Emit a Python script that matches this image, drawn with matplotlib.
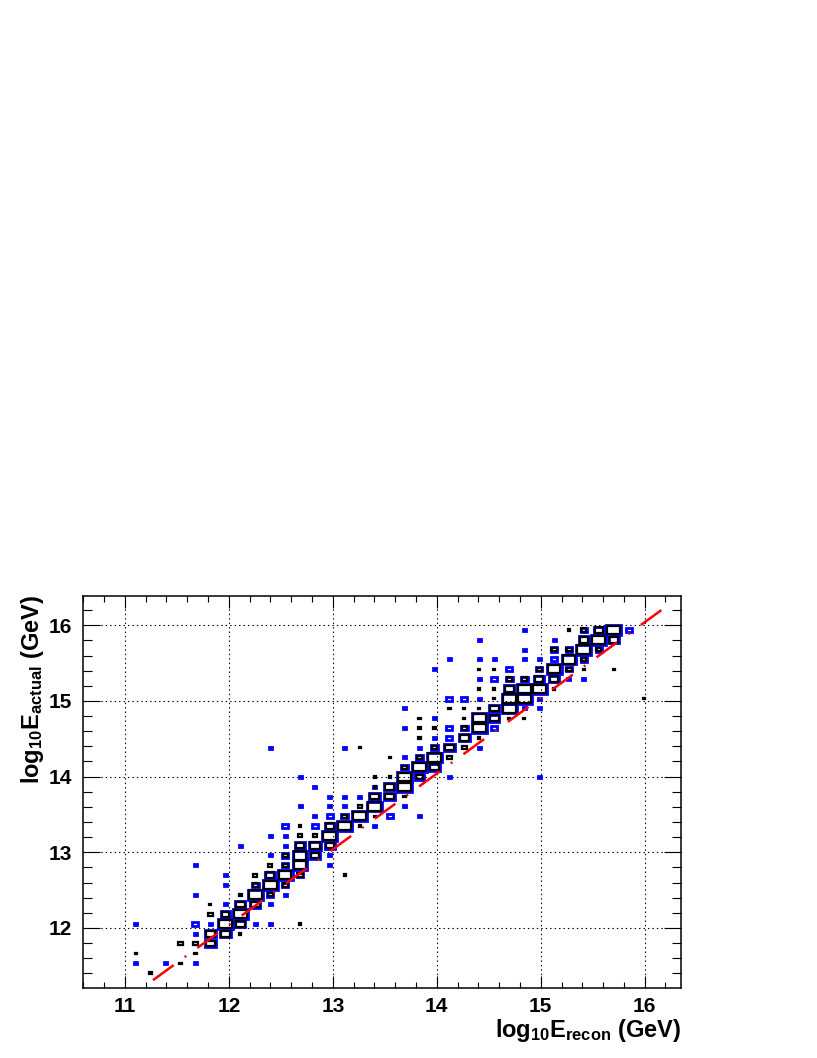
import matplotlib
matplotlib.use("Agg")
import numpy as np
import matplotlib.pyplot as plt
from matplotlib.patches import Rectangle
from matplotlib.collections import PatchCollection
from matplotlib.ticker import MultipleLocator

#---------------------------------------------------------------------------------
#  Histogram binning (40 x 40 cells) and axis titles
#---------------------------------------------------------------------------------
x_lo, x_hi, nx = 10.6, 16.35, 40
y_lo, y_hi, ny = 11.21, 16.39, 40

x_title = r"$log_{10}E_{recon}$ (GeV)"
y_title = r"$log_{10}E_{actual}$ (GeV)"
x_ticks = [11, 12, 13, 14, 15, 16]
y_ticks = [12, 13, 14, 15, 16]

#---------------------------------------------------------------------------------
#  Box histograms : (x bin, y bin, relative box size)
#---------------------------------------------------------------------------------
blue_bins = [
    (3, 6, .2), (3, 2, .2), (5, 2, .2),
    (7, 12, .2), (7, 9, .2), (7, 6, .4), (7, 5, .2), (7, 2, .2),
    (8, 6, .2), (8, 5, .7), (8, 4, .7),
    (9, 11, .2), (9, 10, .2), (9, 8, .2), (9, 7, .6), (9, 6, 1.0), (9, 5, .7),
    (10, 14, .2), (10, 8, .7), (10, 7, 1.0), (10, 6, .7),
    (11, 10, .45), (11, 9, 1.0), (11, 8, .7), (11, 6, .2),
    (12, 24, .2), (12, 15, .2), (12, 13, .2), (12, 11, .7), (12, 10, 1.0), (12, 9, .45),
    (12, 8, .2), (12, 6, .2),
    (13, 16, .4), (13, 15, .2), (13, 14, .2), (13, 13, .45), (13, 12, .45), (13, 11, 1.0),
    (13, 10, .45), (13, 9, .2),
    (14, 21, .2), (14, 18, .2), (14, 14, .7), (14, 13, 1.0), (14, 12, 1.0), (14, 11, .45),
    (15, 20, .2), (15, 17, .2), (15, 16, .4), (15, 14, .8), (15, 13, .7),
    (16, 19, .2), (16, 18, .2), (16, 17, .4), (16, 16, .7), (16, 15, 1.0), (16, 14, .7),
    (16, 13, .2), (16, 12, .2),
    (17, 24, .2), (17, 19, .2), (17, 18, .2), (17, 17, .45), (17, 16, 1.0),
    (18, 19, .2), (18, 17, 1.0),
    (19, 20, .2), (19, 19, .7), (19, 18, 1.0), (19, 16, .2),
    (20, 20, .7), (20, 19, .7), (20, 17, .4),
    (21, 28, .2), (21, 26, .2), (21, 23, .2), (21, 22, .45), (21, 21, 1.0), (21, 20, 1.0),
    (21, 18, .2),
    (22, 24, .2), (22, 23, .45), (22, 22, 1.0), (22, 21, .55), (22, 17, .2),
    (23, 32, .2), (23, 27, .2), (23, 25, .2), (23, 24, .45), (23, 23, 1.0), (23, 22, .7),
    (24, 33, .2), (24, 29, .4), (24, 26, .4), (24, 25, .4), (24, 24, .7), (24, 21, .2),
    (25, 29, .4), (25, 26, .45), (25, 25, .7),
    (26, 35, .2), (26, 33, .2), (26, 31, .2), (26, 29, .2), (26, 27, 1.0), (26, 26, 1.0),
    (26, 24, .2),
    (27, 33, .2), (27, 31, .4), (27, 28, .7), (27, 27, .7), (27, 26, .4),
    (28, 32, .4), (28, 31, .45), (28, 30, .7), (28, 29, 1.0), (28, 28, 1.0),
    (29, 36, .2), (29, 34, .2), (29, 33, .2), (29, 31, .45), (29, 30, 1.0), (29, 29, 1.0),
    (29, 28, .2),
    (30, 33, .2), (30, 32, .45), (30, 31, .7), (30, 30, 1.0), (30, 29, .2), (30, 28, .2),
    (30, 21, .2),
    (31, 35, .2), (31, 34, .45), (31, 33, .4), (31, 32, 1.0), (31, 31, .7),
    (32, 34, .45), (32, 33, 1.0), (32, 32, .45), (32, 31, .2),
    (33, 36, .45), (33, 35, .7), (33, 34, 1.0), (33, 33, .45), (33, 31, .2),
    (34, 36, .7), (34, 35, 1.0), (34, 34, .45),
    (35, 36, 1.0), (35, 35, .7),
    (36, 36, .4),
]

black_bins = [
    (3, 3, .15), (4, 1, .15), (6, 4, .3), (6, 2, .15), (7, 4, .3), (7, 3, .15),
    (8, 8, .15), (8, 7, .3), (8, 5, .58), (8, 4, .58),
    (9, 7, .46), (9, 6, .86), (9, 5, .58),
    (10, 9, .22), (10, 8, .58), (10, 7, .86), (10, 6, .58), (10, 5, .15),
    (11, 11, .3), (11, 10, .34), (11, 9, .86), (11, 8, .58),
    (12, 12, .3), (12, 11, .58), (12, 10, .86), (12, 9, .34),
    (13, 13, .34), (13, 12, .34), (13, 11, .86), (13, 10, .34),
    (14, 16, .15), (14, 15, .3), (14, 14, .58), (14, 13, .86), (14, 12, .86), (14, 11, .34),
    (14, 6, .15),
    (15, 15, .3), (15, 14, .68), (15, 13, .58),
    (16, 16, .58), (16, 15, .86), (16, 14, .58),
    (17, 17, .34), (17, 16, .86), (17, 11, .15),
    (18, 24, .15), (18, 18, .3), (18, 17, .86), (18, 16, .15),
    (19, 21, .15), (19, 20, .15), (19, 19, .58), (19, 18, .86), (19, 17, .15),
    (20, 23, .15), (20, 21, .15), (20, 20, .58), (20, 19, .58),
    (21, 22, .3), (21, 21, .86), (21, 20, .86), (21, 19, .15),
    (22, 27, .15), (22, 26, .15), (22, 25, .15), (22, 23, .34), (22, 22, .86), (22, 21, .46),
    (23, 26, .15), (23, 24, .34), (23, 23, .86), (23, 22, .58),
    (24, 28, .15), (24, 24, .58), (24, 23, .3),
    (25, 28, .15), (25, 27, .15), (25, 26, .34), (25, 25, .58), (25, 24, .3),
    (26, 32, .15), (26, 30, .15), (26, 28, .15), (26, 27, .86), (26, 26, .86), (26, 25, .15),
    (27, 32, .15), (27, 30, .15), (27, 29, .15), (27, 28, .58), (27, 27, .58),
    (28, 31, .34), (28, 30, .58), (28, 29, .86), (28, 28, .86), (28, 27, .15),
    (29, 31, .34), (29, 30, .86), (29, 29, .86), (29, 27, .15),
    (30, 32, .34), (30, 31, .58), (30, 30, .86),
    (31, 34, .34), (31, 32, .86), (31, 31, .58), (31, 30, .15),
    (32, 36, .15), (32, 34, .34), (32, 33, .86), (32, 32, .34),
    (33, 36, .34), (33, 35, .58), (33, 34, .86), (33, 33, .34), (33, 32, .15),
    (34, 36, .58), (34, 35, .86), (34, 34, .34),
    (35, 36, .86), (35, 35, .58), (35, 32, .15),
    (37, 29, .15),
]

# reference line E_actual = E_recon
fit_x = [11.27, 16.16]
fit_y = [11.31, 16.20]


plt.rcParams['font.family'] = ['Liberation Sans', 'DejaVu Sans']
plt.rcParams['font.weight'] = 'bold'
plt.rcParams['mathtext.fontset'] = 'custom'
plt.rcParams['mathtext.rm'] = 'Liberation Sans:bold'
plt.rcParams['mathtext.it'] = 'Liberation Sans:bold'
plt.rcParams['mathtext.bf'] = 'Liberation Sans:bold'
plt.rcParams['lines.scale_dashes'] = False


#---------------------------------------------------------------------------------
#  Draws one histogram as ROOT style boxes
#---------------------------------------------------------------------------------
def drawBoxes(ax, bins, color, lw, x_edges, y_edges):
    dx = x_edges[1] - x_edges[0]
    dy = y_edges[1] - y_edges[0]
    boxes = []
    for i, j, s in bins:
        cx = 0.5 * (x_edges[i] + x_edges[i + 1])
        cy = 0.5 * (y_edges[j] + y_edges[j + 1])
        boxes.append(Rectangle((cx - 0.5 * s * dx, cy - 0.5 * s * dy), s * dx, s * dy))
    pc = PatchCollection(boxes, facecolor='none', edgecolor=color, linewidth=lw,
                         joinstyle='miter', zorder=3)
    ax.add_collection(pc)


def main():
    x_edges = np.linspace(x_lo, x_hi, nx + 1)
    y_edges = np.linspace(y_lo, y_hi, ny + 1)

    fig = plt.figure(figsize=(8.17, 10.58), dpi=100)
    ax = fig.add_axes([0.102, 0.0664, 0.7316, 0.3705])

    drawBoxes(ax, blue_bins, '#0000ff', 2.0, x_edges, y_edges)
    drawBoxes(ax, black_bins, 'black', 1.6, x_edges, y_edges)

    ax.plot(fit_x, fit_y, color='#ff0000', linewidth=1.8,
            linestyle=(0, (18.4, 9.85, 1.4, 9.85)), zorder=4)

    ax.set_xlim(x_lo, x_hi)
    ax.set_ylim(y_lo, y_hi)
    ax.set_xticks(x_ticks)
    ax.set_yticks(y_ticks)
    ax.xaxis.set_minor_locator(MultipleLocator(0.2))
    ax.yaxis.set_minor_locator(MultipleLocator(0.2))

    ax.grid(which='major', color='black', linestyle=(0, (1, 2.2)), linewidth=0.8, zorder=1)

    ax.tick_params(axis='both', which='both', direction='in', top=True, right=True,
                   width=0.8, labelsize=15)
    ax.tick_params(axis='x', which='major', length=8.6, pad=6.5)
    ax.tick_params(axis='x', which='minor', length=4.3)
    ax.tick_params(axis='y', which='major', length=12, pad=8.4)
    ax.tick_params(axis='y', which='minor', length=6.5)
    for sp in ax.spines.values():
        sp.set_linewidth(1.1)

    fig.text(681 / 817, 1 - 1031 / 1058, x_title, ha='right', va='center',
             fontsize=17, fontweight='bold')
    fig.text(33 / 817, 1 - 595 / 1058, y_title, ha='center', va='top',
             rotation=90, fontsize=17, fontweight='bold')

    fig.savefig('out.png', dpi=100)


if __name__ == "__main__":
    main()
